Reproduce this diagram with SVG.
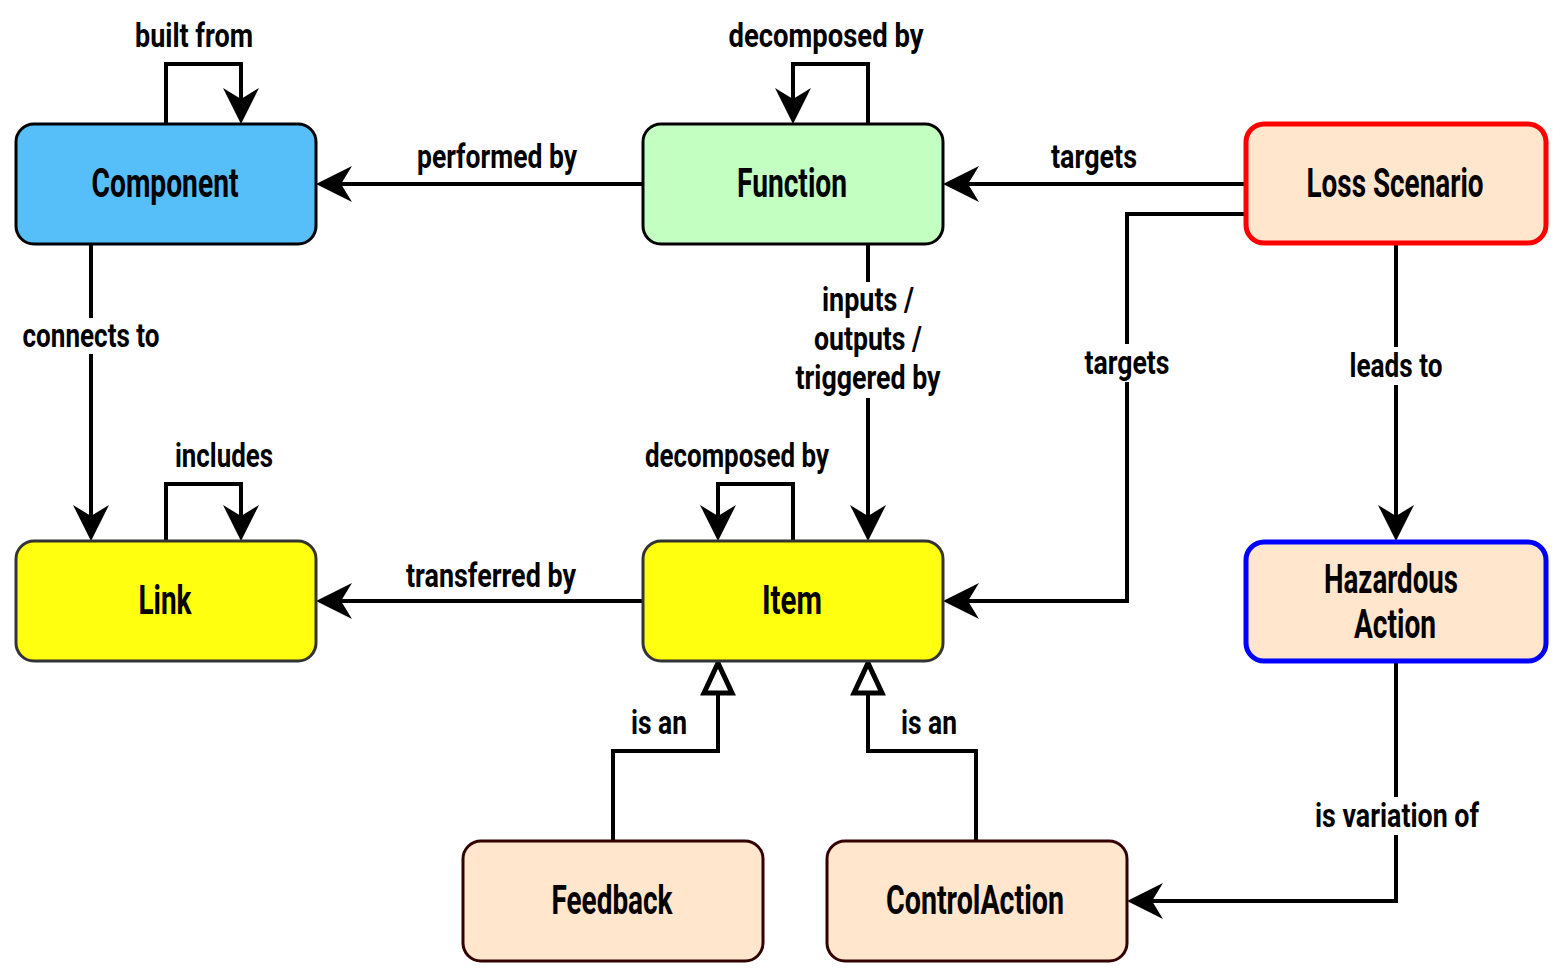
<svg xmlns="http://www.w3.org/2000/svg" width="1566" height="978" viewBox="0 0 1566 978">
<style>
.node{stroke-width:3}
.nl{font-family:Roboto,"Liberation Sans",sans-serif;font-weight:700;font-size:40px;fill:#000;text-anchor:middle}
.el{font-family:Roboto,"Liberation Sans",sans-serif;font-weight:700;font-size:34px;fill:#000;text-anchor:middle}
.edge{fill:none;stroke:#000;stroke-width:4}
.bg{fill:#fff}
</style>
<defs>
<marker id="arr" viewBox="-40 -20 42 40" markerWidth="42" markerHeight="40" refX="-10" refY="0" orient="auto" markerUnits="userSpaceOnUse">
<path d="M0,0 L-36,-18 L-25,0 L-36,18 Z" fill="#000"/>
</marker>
<marker id="tri" viewBox="-34 -19 38 38" markerWidth="38" markerHeight="38" refX="-30" refY="0" orient="auto" markerUnits="userSpaceOnUse">
<path d="M0,0 L-30,-14 L-30,14 Z" fill="#fff" stroke="#000" stroke-width="5" stroke-linejoin="miter"/>
</marker>
</defs>
<rect width="1566" height="978" fill="#fff"/>
<g id="connectors">
<path class="edge" d="M166,124 V64 H241 V114" marker-end="url(#arr)"/>
<path class="edge" d="M868,124 V64 H793 V114" marker-end="url(#arr)"/>
<path class="edge" d="M643,184 H326" marker-end="url(#arr)"/>
<path class="edge" d="M1245,184 H953" marker-end="url(#arr)"/>
<path class="edge" d="M1245,214 H1127 V601 H953" marker-end="url(#arr)"/>
<path class="edge" d="M1396,244 V531" marker-end="url(#arr)"/>
<path class="edge" d="M868,244 V531" marker-end="url(#arr)"/>
<path class="edge" d="M91,244 V531" marker-end="url(#arr)"/>
<path class="edge" d="M166,541 V484 H241 V531" marker-end="url(#arr)"/>
<path class="edge" d="M793,541 V484 H718 V531" marker-end="url(#arr)"/>
<path class="edge" d="M643,601 H326" marker-end="url(#arr)"/>
<path class="edge" d="M613,841 V751 H718 V693" marker-end="url(#tri)"/>
<path class="edge" d="M976,841 V751 H868 V693" marker-end="url(#tri)"/>
<path class="edge" d="M1396,661 V901 H1137" marker-end="url(#arr)"/>
<rect class="bg" x="18" y="318" width="147" height="36"/>
<rect class="bg" x="792" y="282" width="152" height="116"/>
<rect class="bg" x="1080" y="344" width="94" height="38"/>
<rect class="bg" x="1346" y="347" width="100" height="38"/>
<rect class="bg" x="1310" y="797" width="174" height="38"/>
<text class="el" x="194" y="47" textLength="118" lengthAdjust="spacingAndGlyphs">built from</text>
<text class="el" x="826" y="47" textLength="195" lengthAdjust="spacingAndGlyphs">decomposed by</text>
<text class="el" x="497" y="168" textLength="160" lengthAdjust="spacingAndGlyphs">performed by</text>
<text class="el" x="1094" y="168" textLength="86" lengthAdjust="spacingAndGlyphs">targets</text>
<text class="el" x="1127" y="374" textLength="85" lengthAdjust="spacingAndGlyphs">targets</text>
<text class="el" x="91" y="347" textLength="137" lengthAdjust="spacingAndGlyphs">connects to</text>
<text class="el" x="868" y="311" textLength="92" lengthAdjust="spacingAndGlyphs">inputs /</text>
<text class="el" x="868" y="350" textLength="108" lengthAdjust="spacingAndGlyphs">outputs /</text>
<text class="el" x="868" y="389" textLength="145" lengthAdjust="spacingAndGlyphs">triggered by</text>
<text class="el" x="1396" y="377" textLength="93" lengthAdjust="spacingAndGlyphs">leads to</text>
<text class="el" x="224" y="467" textLength="98" lengthAdjust="spacingAndGlyphs">includes</text>
<text class="el" x="737" y="467" textLength="184" lengthAdjust="spacingAndGlyphs">decomposed by</text>
<text class="el" x="491" y="587" textLength="170" lengthAdjust="spacingAndGlyphs">transferred by</text>
<text class="el" x="659" y="734" textLength="56" lengthAdjust="spacingAndGlyphs">is an</text>
<text class="el" x="929" y="734" textLength="56" lengthAdjust="spacingAndGlyphs">is an</text>
<text class="el" x="1397" y="827" textLength="164" lengthAdjust="spacingAndGlyphs">is variation of</text>
</g>
<g id="component">
<rect class="node" x="16" y="124" width="300" height="120" rx="18" fill="#56BFF9" stroke="#000"/>
<text class="nl" x="165" y="197" textLength="147" lengthAdjust="spacingAndGlyphs">Component</text>
</g>
<g id="function">
<rect class="node" x="643" y="124" width="300" height="120" rx="18" fill="#C2FFC1" stroke="#000"/>
<text class="nl" x="792" y="197" textLength="110" lengthAdjust="spacingAndGlyphs">Function</text>
</g>
<g id="loss-scenario">
<rect x="1246" y="124" width="300" height="119" rx="18" fill="#FFE6CC" stroke="#FF0000" stroke-width="5"/>
<text class="nl" x="1395" y="197" textLength="177" lengthAdjust="spacingAndGlyphs">Loss Scenario</text>
</g>
<g id="link">
<rect class="node" x="16" y="541" width="300" height="120" rx="18" fill="#FFFF0F" stroke="#333"/>
<text class="nl" x="165" y="614" textLength="53" lengthAdjust="spacingAndGlyphs">Link</text>
</g>
<g id="item">
<rect class="node" x="643" y="541" width="300" height="120" rx="18" fill="#FFFF0F" stroke="#333"/>
<text class="nl" x="792" y="614" textLength="60" lengthAdjust="spacingAndGlyphs">Item</text>
</g>
<g id="hazardous-action">
<rect x="1246" y="542" width="300" height="119" rx="18" fill="#FFE6CC" stroke="#0000FF" stroke-width="5"/>
<text class="nl" x="1391" y="593" textLength="134" lengthAdjust="spacingAndGlyphs">Hazardous</text>
<text class="nl" x="1395" y="638" textLength="82" lengthAdjust="spacingAndGlyphs">Action</text>
</g>
<g id="feedback">
<rect class="node" x="463" y="841" width="300" height="120" rx="18" fill="#FFE6CC" stroke="#330000"/>
<text class="nl" x="612" y="914" textLength="121" lengthAdjust="spacingAndGlyphs">Feedback</text>
</g>
<g id="controlaction">
<rect class="node" x="827" y="841" width="300" height="120" rx="18" fill="#FFE6CC" stroke="#330000"/>
<text class="nl" x="975" y="914" textLength="178" lengthAdjust="spacingAndGlyphs">ControlAction</text>
</g>
</svg>
